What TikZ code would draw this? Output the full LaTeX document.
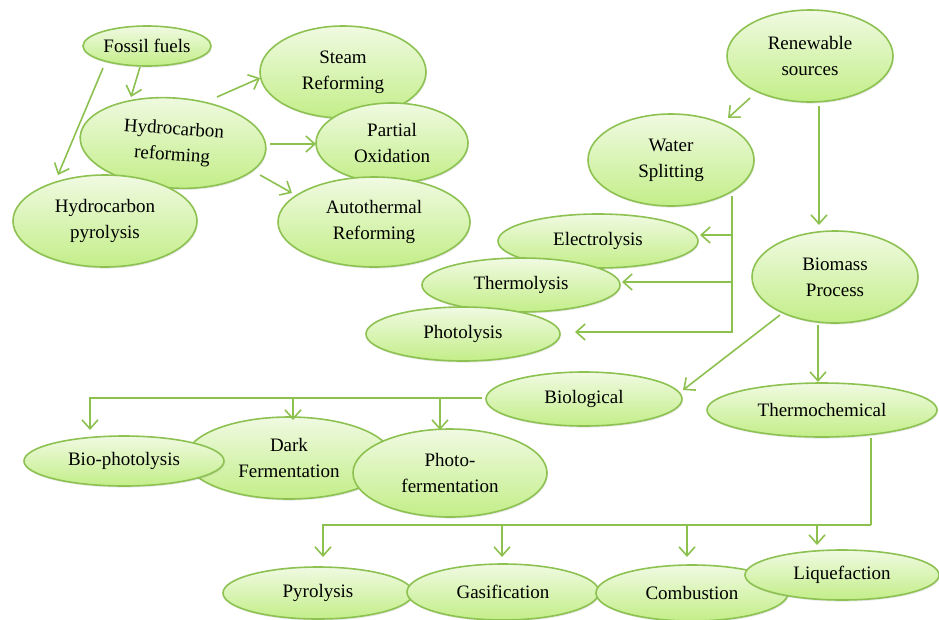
\documentclass[tikz,border=0pt]{standalone}
\usepackage{fontspec}
\setmainfont{Liberation Serif}
\usetikzlibrary{shapes.geometric,arrows.meta,calc,shadows}
\definecolor{elTop}{HTML}{F0FAE2}
\definecolor{elBot}{HTML}{C3EE88}
\definecolor{elLine}{HTML}{8DC252}
\definecolor{conn}{HTML}{8CC04F}
\begin{document}
\begin{tikzpicture}[x=1pt,y=-1pt,
  oval/.style={ellipse, draw=elLine, line width=1.6pt, top color=elTop, bottom color=elBot,
    inner sep=0pt, align=center, font=\fontsize{19}{26}\selectfont,
    drop shadow={opacity=0.18, shadow xshift=0.8pt, shadow yshift=-1.6pt}},
  conline/.style={draw=conn, line width=1.6pt},
  arr/.style={conline, -{Straight Barb[length=9pt,width=16pt,line width=1.6pt]}},
]
\useasboundingbox (0,0) rectangle (939,619);

% fossil branch
\node[oval, minimum width=166, minimum height=92] (sr) at (343,72) {Steam\\Reforming};
\node[oval, minimum width=152, minimum height=80] (po) at (392,143) {Partial\\Oxidation};
\node[oval, minimum width=192, minimum height=90] (ar) at (374,222) {Autothermal\\Reforming};
\node[oval, minimum width=186, minimum height=90, rotate=-4] (hr) at (173,143) {Hydrocarbon\\reforming};
\node[oval, minimum width=184, minimum height=92] (hp) at (105,221) {Hydrocarbon\\pyrolysis};
\node[oval, minimum width=128, minimum height=40] (ff) at (147,46) {Fossil fuels};

% renewable branch
\node[oval, minimum width=166, minimum height=92] (rs) at (810,56) {Renewable\\sources};
\node[oval, minimum width=166, minimum height=92] (ws) at (671,160) {Water\\Splitting};
\node[oval, minimum width=200, minimum height=54] (el) at (598,241) {Electrolysis};
\node[oval, minimum width=198, minimum height=54] (th) at (521,285) {Thermolysis};
\node[oval, minimum width=194, minimum height=54] (ph) at (463,334) {Photolysis};
\node[oval, minimum width=166, minimum height=92] (bp) at (835,277) {Biomass\\Process};
\node[oval, minimum width=196, minimum height=54] (bio) at (584,399) {Biological};
\node[oval, minimum width=230, minimum height=54] (tc) at (822,410) {Thermochemical};

\node[oval, minimum width=206, minimum height=82] (df) at (289,458) {Dark\\Fermentation};
\node[oval, minimum width=200, minimum height=50] (bph) at (124,461) {Bio-photolysis};
\node[oval, minimum width=194, minimum height=88] (pf) at (450,473) {Photo-\\fermentation};

\node[oval, minimum width=190, minimum height=52] (py) at (318,593) {Pyrolysis};
\node[oval, minimum width=192, minimum height=56] (ga) at (503,592) {Gasification};
\node[oval, minimum width=192, minimum height=56] (co) at (692,593) {Combustion};
\node[oval, minimum width=194, minimum height=50] (li) at (842,575) {Liquefaction};

% connectors: fossil
\draw[arr] ($(ff)+(-7,21)$) -- ($(hr)+(-42,-46)$);
\draw[arr] ($(ff)+(-44,22)$) -- ($(hp)+(-47,-46)$);
\draw[arr] ($(hr)+(44,-46)$) -- ($(sr)+(-83,6)$);
\draw[arr] ($(hr)+(97,1)$) -- ($(po)+(-76,1)$);
\draw[arr] ($(hr)+(87,32)$) -- ($(ar)+(-82,-29)$);

% connectors: renewable
\draw[arr] ($(rs)+(-60,42)$) -- ($(ws)+(57,-42)$);
\draw[arr] ($(rs)+(9,50)$) -- ($(bp)+(-16,-52)$);

\coordinate (wsj) at ($(ws)+(61,36)$);
\coordinate (elt) at ($(el)+(102,-6)$);
\coordinate (tht) at ($(th)+(101,-3)$);
\coordinate (pht) at ($(ph)+(112,-2)$);
\draw[arr] (wsj) |- (pht);
\draw[arr] (wsj |- elt) -- (elt);
\draw[arr] (wsj |- tht) -- (tht);

\draw[arr] ($(bp)+(-55,38)$) -- ($(bio)+(99,-9)$);
\draw[arr] ($(bp)+(-17,48)$) -- ($(tc)+(-4,-28)$);

% biological branch
\coordinate (bioj) at ($(bio)+(-102,-1)$);
\coordinate (bpht) at ($(bph)+(-34,-31)$);
\coordinate (dft) at ($(df)+(4,-38)$);
\coordinate (pft) at ($(pf)+(-10,-43)$);
\draw[arr] (bioj) -| (bpht);
\draw[arr] (dft |- bioj) -- (dft);
\draw[arr] (pft |- bioj) -- (pft);

% thermochemical branch
\coordinate (tcs) at ($(tc)+(49,28)$);
\coordinate (tcj) at ($(tcs)+(0,87)$);
\coordinate (pyt) at ($(py)+(5,-36)$);
\coordinate (gat) at ($(ga)+(-1,-35)$);
\coordinate (cot) at ($(co)+(-5,-36)$);
\coordinate (lit) at ($(li)+(-25,-30)$);
\draw[conline] (tcs) -- (tcj);
\draw[arr] (tcj) -| (pyt);
\draw[arr] (gat |- tcj) -- (gat);
\draw[arr] (cot |- tcj) -- (cot);
\draw[arr] (lit |- tcj) -- (lit);
\end{tikzpicture}
\end{document}
